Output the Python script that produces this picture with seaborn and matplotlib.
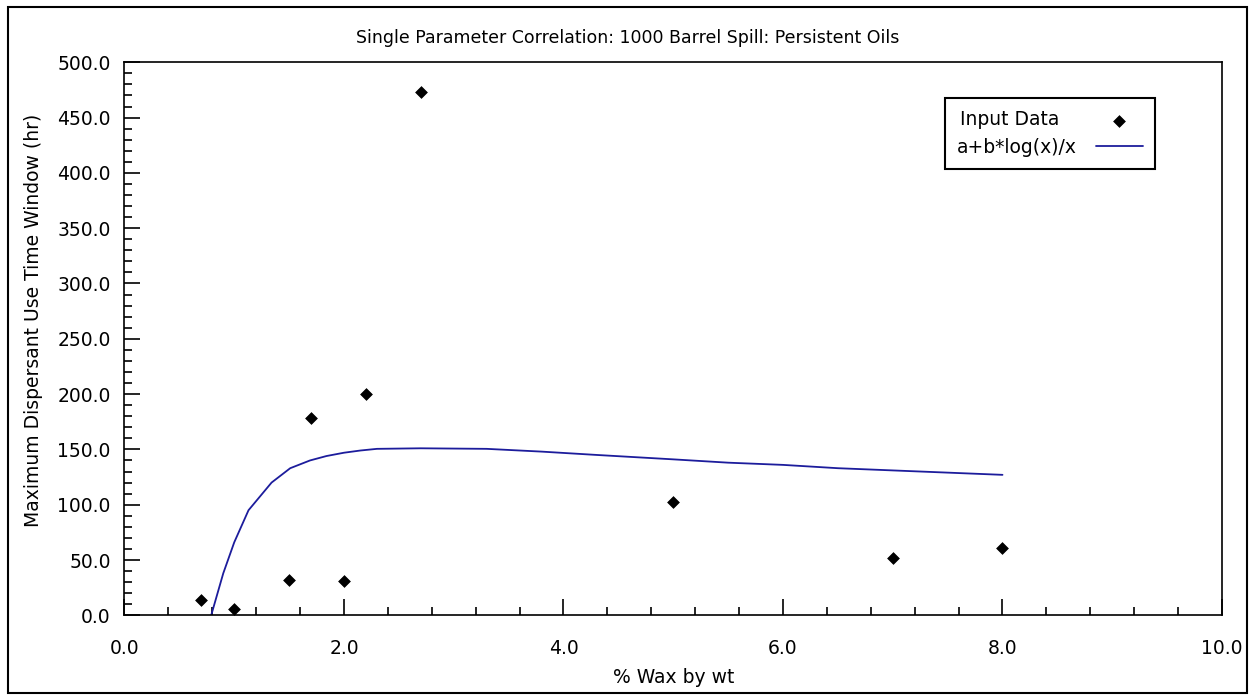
import numpy as np
import pandas as pd
import seaborn as sns
import matplotlib.pyplot as plt
from matplotlib.patches import Rectangle
from matplotlib.ticker import MultipleLocator, FormatStrFormatter

# measured points
wax = [0.7, 1.0, 1.5, 1.7, 2.0, 2.2, 2.7, 5.0, 7.0, 8.0]
window = [14, 6, 32, 178, 31, 200, 473, 102, 52, 61]

# fitted curve a+b*log(x)/x
fit_x = [0.79, 0.90, 1.0, 1.13, 1.34, 1.51, 1.69, 1.84, 2.0, 2.15, 2.3, 2.7,
         3.3, 3.8, 4.3, 5.0, 5.5, 6.0, 6.5, 7.0, 7.5, 8.0]
fit_y = [0, 38, 66, 95, 120, 133, 140, 144, 147, 149, 150.5, 151,
         150.5, 148, 145, 141, 138, 136, 133, 131, 129, 127]

sns.set_theme(style="ticks")
plt.rcParams['font.family'] = ['DejaVu Sans']
plt.rcParams['font.size'] = 13
plt.rcParams['text.color'] = 'black'
plt.rcParams['axes.labelcolor'] = 'black'

df_pts = pd.DataFrame({'x': wax, 'y': window})
df_fit = pd.DataFrame({'x': fit_x, 'y': fit_y})

fig = plt.figure(figsize=(12.55, 7), dpi=100)
ax = fig.add_axes([0.0992, 0.121, 0.8745, 0.790])

sns.lineplot(data=df_fit, x='x', y='y', ax=ax, color='#1c1c9c', linewidth=1.3,
             sort=False, estimator=None, label='a+b*log(x)/x', zorder=2)
sns.scatterplot(data=df_pts, x='x', y='y', ax=ax, marker='D', s=36, color='black',
                edgecolor='black', linewidth=0.5, label='Input Data   ', zorder=3)

ax.set_xlim(0, 10)
ax.set_ylim(0, 500)
ax.xaxis.set_major_locator(MultipleLocator(2))
ax.xaxis.set_minor_locator(MultipleLocator(0.4))
ax.yaxis.set_major_locator(MultipleLocator(50))
ax.yaxis.set_minor_locator(MultipleLocator(10))
ax.xaxis.set_major_formatter(FormatStrFormatter('%.1f'))
ax.yaxis.set_major_formatter(FormatStrFormatter('%.1f'))
ax.tick_params(which='both', direction='in', top=False, right=False,
               colors='black', labelsize=13.5, width=1.2)
ax.tick_params(which='major', length=11.5)
ax.tick_params(which='minor', length=5.8)
ax.tick_params(axis='x', which='major', pad=17)
ax.tick_params(axis='y', which='major', pad=10)
for sp in ax.spines.values():
    sp.set_color('black')
    sp.set_linewidth(1.2)

fig.text(0.5, 1 - 38 / 700, 'Single Parameter Correlation: 1000 Barrel Spill: Persistent Oils',
         ha='center', va='center', fontsize=12.5)
ax.set_xlabel('% Wax by wt', fontsize=13.5, labelpad=7)
ax.set_ylabel('Maximum Dispersant Use Time Window (hr)', fontsize=13.5)
ax.yaxis.set_label_coords(-0.0743, 0.533)

# legend: data first, markers on the right
h, l = ax.get_legend_handles_labels()
leg = ax.legend(h[::-1], l[::-1], loc='upper right', bbox_to_anchor=(0.939, 0.935),
                markerfirst=False, fancybox=False, framealpha=1, fontsize=13.5,
                handlelength=2.5, handletextpad=1.0, borderpad=0.65,
                labelspacing=0.45, borderaxespad=0)
leg.get_frame().set_edgecolor('black')
leg.get_frame().set_linewidth(1.5)

# outer frame around the whole figure
fig.patches.append(Rectangle((0.006, 0.01), 0.988, 0.98, transform=fig.transFigure,
                             fill=False, edgecolor='black', linewidth=1.5))

plt.savefig('out.png', dpi=100)
plt.close()
